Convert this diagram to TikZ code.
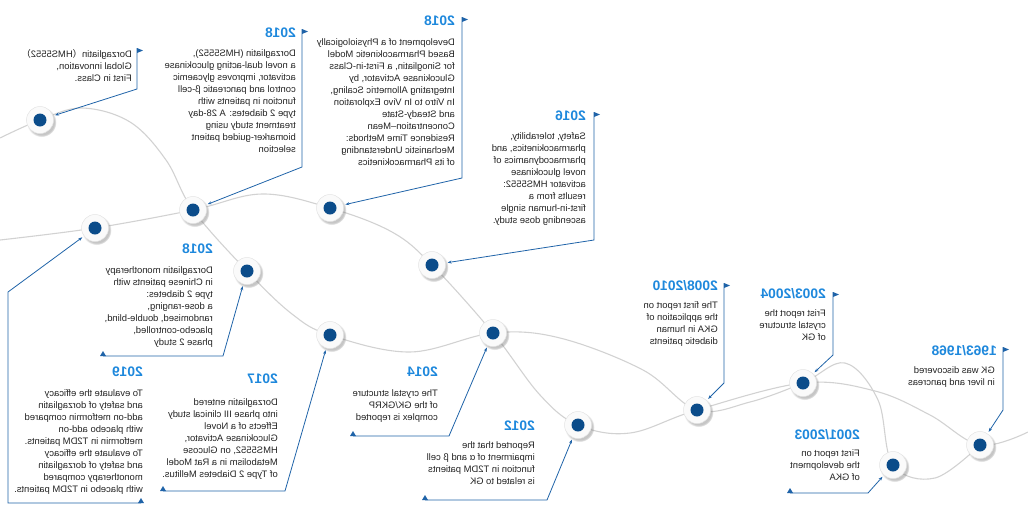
\documentclass[tikz,border=0pt]{standalone}
\usepackage{fontspec}
\setmainfont{Liberation Sans}
\newfontfamily\cjk{Noto Sans CJK SC}
\usetikzlibrary{arrows.meta,shadows}
\definecolor{gkwave}{HTML}{D2D2D2}
\definecolor{gkline}{HTML}{1F63A8}
\definecolor{gkdot}{HTML}{0B4C8A}
\definecolor{gkyear}{HTML}{1E88DC}
\definecolor{gktext}{HTML}{222222}
\newcommand{\yearfont}{\fontsize{13.8}{14}\selectfont\bfseries}
\newcommand{\notefont}{\fontsize{9.4}{12}\selectfont}
\tikzset{
  wave/.style={gkwave,line width=1.1pt},
  stop/.style={circle,minimum size=27pt,inner sep=0pt,fill=gray!4,draw=gray!22,line width=0.5pt,
    circular drop shadow={shadow xshift=1.5pt,shadow yshift=-2pt,opacity=0.45},
    path picture={\fill[gkdot] (path picture bounding box.center) circle (6.5pt);}},
  link/.style={gkline,line width=0.8pt,-{Stealth[length=4pt,width=3pt]},shorten >=2pt},
  flag/.style={fill=gkline},
  yearlbl/.style={font=\yearfont,text=gkyear,inner sep=0pt,anchor=north west},
  notetxt/.style={font=\notefont,text=gktext,align=left,inner sep=0pt,anchor=north west}
}
\begin{document}
\begin{tikzpicture}[x={(-1pt,0pt)},y={(0pt,-1pt)},xscale=-1,transform shape]
  \useasboundingbox (0,0) rectangle (1028,528);
  % the two waves
  \draw[wave] plot[smooth,tension=0.6] coordinates {(0,240) (95,228) (193,210) (262,194) (330,208) (392,232) (432,265) (493,333) (540,395) (578,425) (630,433) (697,410) (803,383) (875,391) (930,415) (980,445) (1028,432)};
  \draw[wave] plot[smooth,tension=0.6] coordinates {(0,138) (40,120) (82,108) (130,122) (166,160) (193,210) (247,271) (292,314) (330,335) (410,352) (493,333) (560,338) (643,370) (697,410) (750,402) (803,383) (845,363) (878,400) (893,465) (935,478) (980,445)};
  % stops
  \node[stop] (st1) at (40,120) {};
  \node[stop] (st2) at (95,228) {};
  \node[stop] (st3) at (193,210) {};
  \node[stop] (st4) at (247,271) {};
  \node[stop] (st5) at (330,208) {};
  \node[stop] (st6) at (330,335) {};
  \node[stop] (st7) at (432,265) {};
  \node[stop] (st8) at (493,333) {};
  \node[stop] (st9) at (578,425) {};
  \node[stop] (st10) at (697,410) {};
  \node[stop] (st11) at (803,383) {};
  \node[stop] (st12) at (893,465) {};
  \node[stop] (st13) at (980,445) {};
  % upper notes: flag on top
  \foreach \i/\x/\top/\bot in {1/137/48/89,2/302/29/167,3/462/17/178,4/594/112/240,10/724/283/383,11/833/292/355,13/1003/347/410} {
    \coordinate (f\i) at (\x,\top);
    \coordinate (b\i) at (\x,\bot);
    \fill[flag] (f\i) -- ++(6,2.5) -- ++(-6,2.5) -- cycle;
  }
  \draw[link] (f1) -- (b1) -- (st1);
  \draw[link] (f2) -- (b2) -- (st3);
  \draw[link] (f3) -- (b3) -- (st5);
  \draw[link] (f4) -- (b4) -- (st7);
  \draw[link] (f10) -- (b10) -- (st10);
  \draw[link] (f11) -- (b11) -- (st11);
  \draw[link] (f13) -- (b13) -- (st13);
  % lower notes: marker at the end of the base line
  \foreach \i/\m/\b/\y in {5/103/223/356,7/163/285/491,8/353/449/436,9/425/547/500,12/790/868/493} {
    \coordinate (m\i) at (\m,\y);
    \coordinate (b\i) at (\b,\y);
    \fill[flag] (m\i) ++(-3,0) -- ++(3,-5) -- ++(3,5) -- cycle;
  }
  \draw[link] (m5) -- (b5) -- (st4);
  \draw[link] (m7) -- (b7) -- (st6);
  \draw[link] (m8) -- (b8) -- (st8);
  \draw[link] (m9) -- (b9) -- (st9);
  \draw[link] (m12) -- (b12) -- (st12);
  \coordinate (m6) at (141,503);
  \coordinate (c6) at (8,503);
  \coordinate (b6) at (8,292);
  \fill[flag] (m6) ++(-3,0) -- ++(3,-5) -- ++(3,5) -- cycle;
  \draw[link] (m6) -- (c6) -- (b6) -- (st2);
  % texts
  \node[notetxt] (t1) at (132,49) {Dorzagliatin{\cjk （}HMS5552{\cjk ）}\\Global innovation,\\First in Class.};
  \node[yearlbl] (y2) at (296,28) {2018};
  \node[notetxt] (t2) at (296,49) {Dorzagliatin (HMS5552),\\a novel dual-acting glucokinase\\activator, improves glycaemic\\control and pancreatic β-cell\\function in patients with\\type 2 diabetes: A 28-day\\treatment study using\\biomarker-guided patient\\selection};
  \node[yearlbl] (y3) at (455,16) {2018};
  \node[notetxt] (t3) at (455,38) {Development of a Physiologically\\Based Pharmacokinetic Model\\for Sinogliatin, a First-in-Class\\Glucokinase Activator, by\\Integrating Allometric Scaling,\\In Vitro to In Vivo Exploration\\and Steady-State\\Concentration–Mean\\Residence Time Methods:\\Mechanistic Understanding\\of its Pharmacokinetics};
  \node[yearlbl] (y4) at (586,111) {2016};
  \node[notetxt] (t4) at (586,132) {Safety, tolerability,\\pharmacokinetics, and\\pharmacodynamics of\\novel glucokinase\\activator HMS5552:\\results from a\\first-in-human single\\ascending dose study.};
  \node[yearlbl] (y5) at (213,244) {2018};
  \node[notetxt] (t5) at (213,266) {Dorzagliatin monotherapy\\in Chinese patients with\\type 2 diabetes:\\a dose-ranging,\\randomised, double-blind,\\placebo-controlled,\\phase 2 study};
  \node[yearlbl] (y6) at (143,367) {2019};
  \node[notetxt] (t6) at (143,389) {To evaluate the efficacy\\and safety of dorzagliatin\\add-on metformin compared\\with placebo add-on\\metformin in T2DM patients.\\To evaluate the efficacy\\and safety of dorzagliatin\\monotherapy compared\\with placebo in T2DM patients.};
  \node[yearlbl] (y7) at (278,374) {2017};
  \node[notetxt] (t7) at (278,398) {Dorzagliatin entered\\into phase III clinical study\\Effects of a Novel\\Glucokinase Activator,\\HMS5552, on Glucose\\Metabolism in a Rat Model\\of Type 2 Diabetes Mellitus.};
  \node[yearlbl] (y8) at (438,367) {2014};
  \node[notetxt] (t8) at (438,389) {The crystal structure\\of the GK/GKRP\\complex is reported};
  \node[yearlbl] (y9) at (535,421) {2012};
  \node[notetxt] (t9) at (535,441) {Reported that the\\impairment of α and β cell\\function in T2DM patients\\is related to GK};
  \node[yearlbl] (y10) at (718,280) {2008/2010};
  \node[notetxt] (t10) at (718,301) {The first report on\\the application of\\GKA in human\\diabetic patients};
  \node[yearlbl] (y11) at (826,288) {2003/2004};
  \node[notetxt] (t11) at (826,309) {Frist report the\\crystal structure\\of GK};
  \node[yearlbl] (y12) at (860,429) {2001/2003};
  \node[notetxt] (t12) at (860,449) {First report on\\the development\\of GKA};
  \node[yearlbl] (y13) at (997,345) {1963/1968};
  \node[notetxt] (t13) at (995,366) {GK was discovered\\in liver and pancreas};
\end{tikzpicture}
\end{document}
